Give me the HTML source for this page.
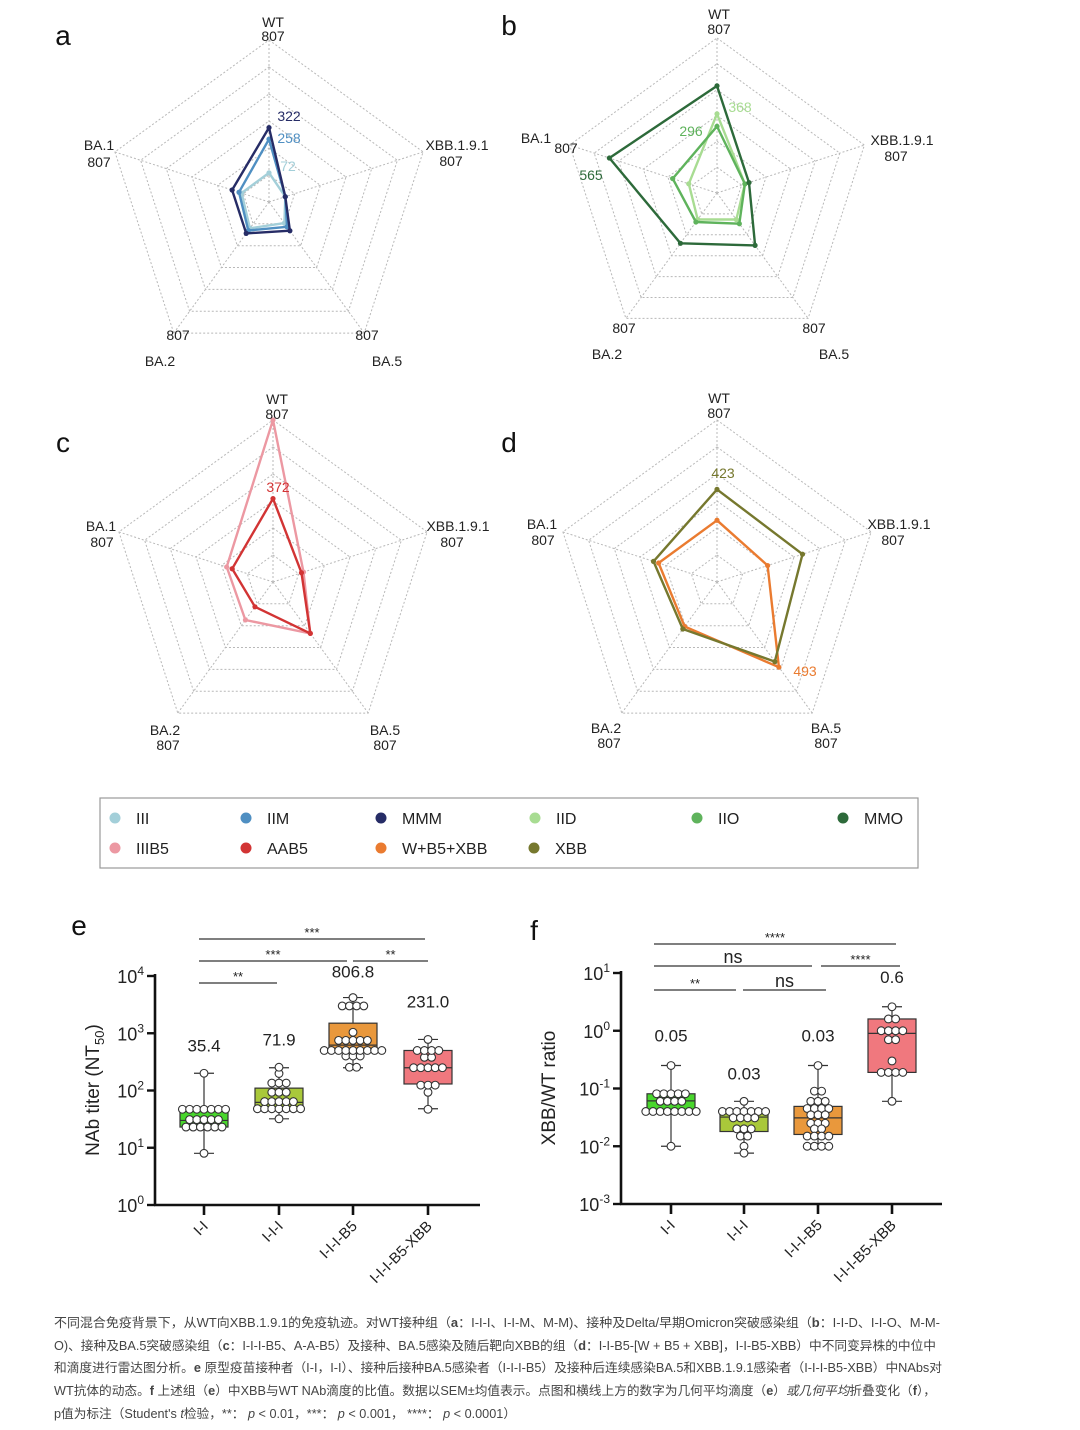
<!DOCTYPE html>
<html><head><meta charset="utf-8">
<style>
html,body{margin:0;padding:0;background:#fff;}
svg{display:block;font-family:"Liberation Sans","Noto Sans CJK SC",sans-serif;}
</style></head>
<body>
<svg id="fig" width="1080" height="1430" viewBox="0 0 1080 1430" xmlns="http://www.w3.org/2000/svg">
<g id="radars"></g>
<g id="legend">
  <rect x="100" y="798" width="818" height="70" fill="#fff" stroke="#999" stroke-width="1.2"/>
</g>
<g id="boxE"></g>
<g id="boxF"></g>
<g id="caption" font-size="12.5" fill="#444">
  <text x="54" y="1327" textLength="886" lengthAdjust="spacingAndGlyphs">不同混合免疫背景下，从WT向XBB.1.9.1的免疫轨迹。对WT接种组（<tspan font-weight="bold">a</tspan>：I-I-I、I-I-M、M-M)、接种及Delta/早期Omicron突破感染组（<tspan font-weight="bold">b</tspan>：I-I-D、I-I-O、M-M-</text>
  <text x="54" y="1350" textLength="882" lengthAdjust="spacingAndGlyphs">O)、接种及BA.5突破感染组（<tspan font-weight="bold">c</tspan>：I-I-I-B5、A-A-B5）及接种、BA.5感染及随后靶向XBB的组（<tspan font-weight="bold">d</tspan>：I-I-B5-[W + B5 + XBB]，I-I-B5-XBB）中不同变异株的中位中</text>
  <text x="54" y="1372" textLength="888" lengthAdjust="spacingAndGlyphs">和滴度进行雷达图分析。<tspan font-weight="bold">e</tspan> 原型疫苗接种者（I-I，I-I）、接种后接种BA.5感染者（I-I-I-B5）及接种后连续感染BA.5和XBB.1.9.1感染者（I-I-I-B5-XBB）中NAbs对</text>
  <text x="54" y="1395" textLength="882" lengthAdjust="spacingAndGlyphs">WT抗体的动态。<tspan font-weight="bold">f</tspan> 上述组（<tspan font-weight="bold">e</tspan>）中XBB与WT NAb滴度的比值。数据以SEM±均值表示。点图和横线上方的数字为几何平均滴度（<tspan font-weight="bold">e</tspan>）<tspan font-style="italic">或几何平均</tspan>折叠变化（<tspan font-weight="bold">f</tspan>），</text>
  <text x="54" y="1418" textLength="462" lengthAdjust="spacingAndGlyphs">p值为标注（Student's <tspan font-style="italic">t</tspan>检验，**： <tspan font-style="italic">p</tspan> &lt; 0.01，***： <tspan font-style="italic">p</tspan> &lt; 0.001， ****： <tspan font-style="italic">p</tspan> &lt; 0.0001）</text>
</g>
</svg>
<script>
// ---------- radar data (axes order: WT, XBB.1.9.1, BA.5, BA.2, BA.1) ----------
const radarAxes = ["WT","XBB.1.9.1","BA.5","BA.2","BA.1"];
const radarMax = 807;
const aNames = ["III","IIM","MMM"];
const aIII = [72,5,55,90,70];
const aIIM = [258,5,80,105,85];
const aMMM = [322,5,107,125,125];
const bNames = ["IID","IIO","MMO"];
const bIID = [368,80,100,100,82];
const bIIO = [296,80,130,118,180];
const bMMO = [530,105,285,270,565];
const cNames = ["IIIB5","AAB5"];
const cIIIB5 = [807,88,262,170,180];
const cAAB5 = [372,76,262,80,148];
const dNames = ["W+B5+XBB","XBB"];
const dW = [252,205,493,215,250];
const dXBB = [423,408,455,232,280];

// ---------- box plot data ----------
const eCats = ["I-I","I-I-I","I-I-I-B5","I-I-I-B5-XBB"];
const eGMT = ["35.4","71.9","806.8","231.0"];
const eMin = [8,32,250,48];
const eQ1 = [23,47,500,130];
const eMed = [30,62,620,250];
const eQ3 = [47,110,1500,500];
const eMax = [200,250,4200,780];
const ePts0 = [200,47,47,47,47,47,47,47,31,31,31,31,31,23,23,23,23,23,23,8];
const ePts1 = [255,198,135,135,135,93,93,93,64,64,64,64,64,48,48,48,48,48,48,48,32];
const ePts2 = [4200,3000,3000,3000,3000,1040,750,750,750,750,750,500,500,500,500,500,500,500,500,500,400,400,400,255,255];
const ePts3 = [780,500,500,500,500,380,380,250,250,250,250,250,124,124,124,93,47];
const fCats = ["I-I","I-I-I","I-I-I-B5","I-I-I-B5-XBB"];
const fGMT = ["0.05","0.03","0.03","0.6"];
const fMin = [0.01,0.0076,0.01,0.06];
const fQ1 = [0.04,0.018,0.016,0.19];
const fMed = [0.061,0.032,0.031,0.9];
const fQ3 = [0.081,0.04,0.049,1.6];
const fMax = [0.25,0.06,0.25,2.6];
const fPts0 = [0.25,0.081,0.081,0.081,0.081,0.081,0.06,0.06,0.06,0.06,0.04,0.04,0.04,0.04,0.04,0.04,0.04,0.04,0.01];
const fPts1 = [0.06,0.04,0.04,0.04,0.04,0.04,0.04,0.04,0.031,0.031,0.031,0.031,0.02,0.02,0.02,0.015,0.015,0.01,0.0076];
const fPts2 = [0.25,0.09,0.09,0.06,0.06,0.06,0.045,0.045,0.045,0.045,0.035,0.035,0.035,0.025,0.025,0.025,0.02,0.02,0.015,0.015,0.015,0.015,0.01,0.01,0.01,0.01];
const fPts3 = [2.6,1.6,1.6,1.0,1.0,1.0,1.0,0.7,0.7,0.3,0.19,0.19,0.19,0.19,0.06];

const NS = "http://www.w3.org/2000/svg";
function mk(parent, tag, attrs, text){
  const el = document.createElementNS(NS, tag);
  for (const k in attrs) el.setAttribute(k, attrs[k]);
  if (text !== undefined) el.textContent = text;
  parent.appendChild(el);
  return el;
}

// ---------- radars ----------
const radarG = document.getElementById("radars");
const angles = [-90,-18,54,126,198].map(a=>a*Math.PI/180);
function rf(v){ return 0.1 + 0.9*v/radarMax; }
function drawRadar(id, cx, cy, R, seriesList, colors, names){
  const g = mk(radarG, "g", {});
  
  
  for (let k=1;k<=6;k++){
    const r = R*k/6;
    const pts = angles.map(a=>(cx+r*Math.cos(a)).toFixed(1)+","+(cy+r*Math.sin(a)).toFixed(1)).join(" ");
    const ring = mk(g,"polygon",{points:pts,fill:"none",stroke:"#b8b8b8","stroke-width":1,"stroke-dasharray":"2,2"});
    
    
  }
  angles.forEach(a=>{
    const sp = mk(g,"line",{x1:cx,y1:cy,x2:cx+R*Math.cos(a),y2:cy+R*Math.sin(a),stroke:"#b8b8b8","stroke-width":1,"stroke-dasharray":"2,2"});
    
    
  });
  seriesList.forEach((vals,si)=>{
    const pts = vals.map((v,i)=>[cx+R*rf(v)*Math.cos(angles[i]), cy+R*rf(v)*Math.sin(angles[i])]);
    const poly = mk(g,"polygon",{points:pts.map(p=>p[0].toFixed(1)+","+p[1].toFixed(1)).join(" "),fill:"none",stroke:colors[si],"stroke-width":2.4,"stroke-linejoin":"round"});
    
    
    pts.forEach(p=>{
      const c = mk(g,"circle",{cx:p[0],cy:p[1],r:2.6,fill:colors[si]});
      
      
    });
  });
}
drawRadar("a",269,202,162,[aIII,aIIM,aMMM],["#a3cfd9","#4f8fc2","#262c66"],aNames);
drawRadar("b",717,193,155,[bIID,bIIO,bMMO],["#a8dc92","#5fb35c","#2d6a3a"],bNames);
drawRadar("c",273,582,162,[cIIIB5,cAAB5],["#ec98a2","#d23434"],cNames);
drawRadar("d",717,582,162,[dW,dXBB],["#ea7b30","#76782e"],dNames);

// axis labels
const axisLabels = [
 ["a",[[273,22,"WT"],[273,36,"807"],[457,145,"XBB.1.9.1"],[451,161,"807"],[99,145,"BA.1"],[99,162,"807"],[178,335,"807"],[160,361,"BA.2"],[367,335,"807"],[387,361,"BA.5"]]],
 ["b",[[719,14,"WT"],[719,29,"807"],[902,140,"XBB.1.9.1"],[896,156,"807"],[536,138,"BA.1"],[566,148,"807"],[624,328,"807"],[607,354,"BA.2"],[814,328,"807"],[834,354,"BA.5"]]],
 ["c",[[277,399,"WT"],[277,414,"807"],[458,526,"XBB.1.9.1"],[452,542,"807"],[101,526,"BA.1"],[102,542,"807"],[165,730,"BA.2"],[168,745,"807"],[385,730,"BA.5"],[385,745,"807"]]],
 ["d",[[719,398,"WT"],[719,413,"807"],[899,524,"XBB.1.9.1"],[893,540,"807"],[542,524,"BA.1"],[543,540,"807"],[606,728,"BA.2"],[609,743,"807"],[826,728,"BA.5"],[826,743,"807"]]]
];
axisLabels.forEach(([id,list])=>{
  list.forEach(([x,y,t])=>{
    const el = mk(radarG,"text",{x:x,y:y+5,"text-anchor":"middle","font-size":14,fill:"#222"},t);
    
    
  });
});
const valueLabels = [[289,116,"322","#262c66"],[289,138,"258","#4f8fc2"],[288,166,"72","#a3cfd9"],
 [740,107,"368","#a8dc92"],[691,131,"296","#5fb35c"],[591,175,"565","#2d6a3a"],
 [278,487,"372","#d23434"],[723,473,"423","#76782e"],[805,671,"493","#ea7b30"]];
valueLabels.forEach(([x,y,t,c])=>{
  const el = mk(radarG,"text",{x:x,y:y+5,"text-anchor":"middle","font-size":14,fill:c},t);
  
  
});
[["a",63,45],["b",509,35],["c",63,452],["d",509,452],["e",79,935],["f",534,940]].forEach(([t,x,y])=>{
  const el = mk(document.getElementById("fig"),"text",{x:x,y:y,"text-anchor":"middle","font-size":28,fill:"#111"},t);
  
  
});

// ---------- legend ----------
const legNames = ["III","IIM","MMM","IID","IIO","MMO","IIIB5","AAB5","W+B5+XBB","XBB"];
const legColors = ["#a3cfd9","#4f8fc2","#262c66","#a8dc92","#5fb35c","#2d6a3a","#ec98a2","#d23434","#ea7b30","#76782e"];
const legX = [115,246,381,535,697,843,115,246,381,534];
const legRow = [0,0,0,0,0,0,1,1,1,1];
const legendG = document.getElementById("legend");
legNames.forEach((n,i)=>{
  const y = 820 + legRow[i]*30;
  const g = mk(legendG,"g",{});
  
  
  mk(g,"circle",{cx:legX[i],cy:y-2,r:5.5,fill:legColors[i]});
  mk(g,"text",{x:legX[i]+21,y:y+4,"font-size":16,fill:"#222"},n);
});

// ---------- box plots ----------
function drawBox(gid, cfg){
  const g = document.getElementById(gid);
  const yOf = v => cfg.y0 - (Math.log10(v)-cfg.dmin)*cfg.dec;
  // axes
  const ya = mk(g,"line",{x1:cfg.ax,y1:cfg.yTop-2,x2:cfg.ax,y2:cfg.y0,stroke:"#111","stroke-width":2.6});
  
  
  const xa = mk(g,"line",{x1:cfg.ax-1,y1:cfg.y0,x2:cfg.axEnd,y2:cfg.y0,stroke:"#111","stroke-width":2.6});
  
  
  for (let d=cfg.dmin; d<=cfg.dmax; d++){
    const y = yOf(Math.pow(10,d));
    mk(g,"line",{x1:cfg.ax-8,y1:y,x2:cfg.ax,y2:y,stroke:"#111","stroke-width":2.4});
    const t = mk(g,"text",{x:cfg.ax-11,y:y+7,"text-anchor":"end","font-size":18,fill:"#222"});
    
    
    const b = document.createElementNS(NS,"tspan"); b.textContent="10"; t.appendChild(b);
    const s = document.createElementNS(NS,"tspan"); s.setAttribute("dy","-8"); s.setAttribute("font-size","12"); s.textContent=String(d); t.appendChild(s);
  }
  const yt = mk(g,"text",{x:0,y:0,"text-anchor":"middle","font-size":19,fill:"#222",transform:`translate(${cfg.ylx},${cfg.ylc}) rotate(-90)`});
  
  
  yt.innerHTML = cfg.ytitle;
  cfg.cats.forEach((c,i)=>{
    const x = cfg.xs[i];
    mk(g,"line",{x1:x,y1:cfg.y0,x2:x,y2:cfg.y0+10,stroke:"#111","stroke-width":2.6});
    const tl = mk(g,"text",{x:0,y:0,"text-anchor":"end","font-size":15,fill:"#222",transform:`translate(${x+5},${cfg.y0+22}) rotate(-45)`},c);
    
    
    const bx = mk(g,"g",{});
    
    
    const w = cfg.bw;
    mk(bx,"line",{x1:x,y1:yOf(cfg.max[i]),x2:x,y2:yOf(cfg.min[i]),stroke:"#333","stroke-width":1.2});
    mk(bx,"line",{x1:x-10,y1:yOf(cfg.max[i]),x2:x+10,y2:yOf(cfg.max[i]),stroke:"#333","stroke-width":1.2});
    mk(bx,"line",{x1:x-10,y1:yOf(cfg.min[i]),x2:x+10,y2:yOf(cfg.min[i]),stroke:"#333","stroke-width":1.2});
    mk(bx,"rect",{x:x-w/2,y:yOf(cfg.q3[i]),width:w,height:yOf(cfg.q1[i])-yOf(cfg.q3[i]),fill:cfg.colors[i],stroke:"#333","stroke-width":1.2});
    mk(bx,"line",{x1:x-w/2,y1:yOf(cfg.med[i]),x2:x+w/2,y2:yOf(cfg.med[i]),stroke:"#333","stroke-width":1.2});
    // beeswarm dots
    const pts = cfg.pts[i];
    const groups = {};
    pts.forEach(v=>{ groups[v]=(groups[v]||0)+1; });
    Object.keys(groups).forEach(k=>{
      const n = groups[k];
      for (let j=0;j<n;j++){
        const dx = (j-(n-1)/2)*7.2;
        const dot = mk(bx,"circle",{cx:x+dx,cy:yOf(+k),r:3.9,fill:"#fff",stroke:"#333","stroke-width":1.1});
        
        
      }
    });
    const gl = mk(g,"text",{x:x,y:yOf(cfg.max[i])-cfg.gOff[i],"text-anchor":"middle","font-size":17,fill:"#222"},cfg.gmt[i]);
    
    
  });
  cfg.brackets.forEach(([x1,x2,y,t])=>{
    const br = mk(g,"line",{x1:x1,y1:y,x2:x2,y2:y,stroke:"#333","stroke-width":1.2});
    
    
    const st = mk(g,"text",{x:(x1+x2)/2,y:t==="ns"?y-3:y-2,"text-anchor":"middle","font-size":t==="ns"?18:13,fill:"#222"},t);
    
    
  });
}
drawBox("boxE",{ax:155,axEnd:480,y0:1205,yTop:976,dec:57.25,dmin:0,dmax:4,
  xs:[204,279,353,428],bw:48,cats:eCats,gmt:eGMT,min:eMin,q1:eQ1,med:eMed,q3:eQ3,max:eMax,
  pts:[ePts0,ePts1,ePts2,ePts3],colors:["#48d62c","#a9c83a","#e9983c","#f0787e"],
  gOff:[22,22,20,32],ylx:99,ylc:1090,ytitle:'NAb titer (NT<tspan dy="5" font-size="13">50</tspan><tspan dy="-5">)</tspan>',
  brackets:[[199,425,939,"***"],[199,347,961,"***"],[353,428,961,"**"],[199,277,983,"**"]]});
drawBox("boxF",{ax:621,axEnd:942,y0:1204,yTop:973,dec:57.75,dmin:-3,dmax:1,
  xs:[671,744,818,892],bw:48,cats:fCats,gmt:fGMT,min:fMin,q1:fQ1,med:fMed,q3:fQ3,max:fMax,
  pts:[fPts0,fPts1,fPts2,fPts3],colors:["#48d62c","#a9c83a","#e9983c","#f0787e"],
  gOff:[24,22,24,24],ylx:555,ylc:1088,ytitle:'XBB/WT ratio',
  brackets:[[654,896,944,"****"],[654,812,966,"ns"],[821,900,966,"****"],[654,736,990,"**"],[743,826,990,"ns"]]});
</script>
</body></html>
